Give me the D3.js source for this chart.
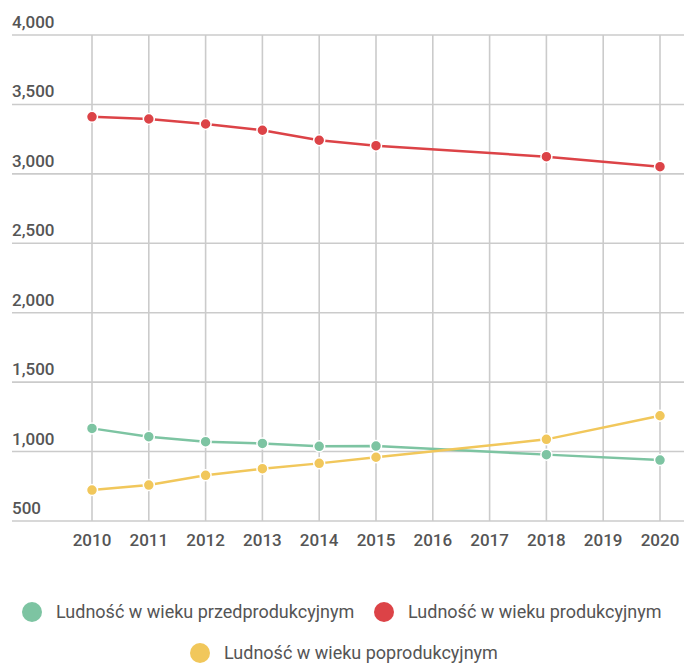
<!DOCTYPE html>
<html>
<head>
<meta charset="utf-8">
<script src="https://cdn.jsdelivr.net/npm/d3@7"></script>
<style>
  body { margin: 0; background: #fff; }
  svg { display: block; font-family: Roboto, "Noto Sans", sans-serif; }
</style>
</head>
<body>
<svg id="chart"></svg>
<script>
// dane z wykresu (tys.)
const years = [2010, 2011, 2012, 2013, 2014, 2015, 2016, 2017, 2018, 2019, 2020];
const pointYears = [2010, 2011, 2012, 2013, 2014, 2015, 2018, 2020];
const przedprodukcyjny = [1167, 1107, 1071, 1059, 1038, 1040, 978, 939];
const produkcyjny = [3411, 3395, 3359, 3314, 3242, 3203, 3124, 3052];
const poprodukcyjny = [723, 759, 829, 877, 915, 959, 1088, 1258];
const yTicks = [500, 1000, 1500, 2000, 2500, 3000, 3500, 4000];
const seriesNames = [
  "Ludność w wieku przedprodukcyjnym",
  "Ludność w wieku produkcyjnym",
  "Ludność w wieku poprodukcyjnym"
];

const colors = ["#7dc4a2", "#dc4347", "#f1c75b"];
const W = 685, H = 664;

const svg = d3.select("#chart").attr("width", W).attr("height", H);

const x = d3.scaleLinear().domain([2010, 2020]).range([92, 660]);
const y = d3.scaleLinear().domain([500, 4000]).range([521, 35]);

// siatka pozioma + etykiety osi Y
const gy = svg.append("g");
gy.selectAll("line").data(yTicks).enter().append("line")
  .attr("x1", 12).attr("x2", 684)
  .attr("y1", d => y(d)).attr("y2", d => y(d))
  .attr("stroke", "#cbcbcb").attr("stroke-width", 1.6);
gy.selectAll("text").data(yTicks).enter().append("text")
  .attr("x", 12).attr("y", d => y(d) - 7)
  .attr("fill", "#555").attr("font-size", 17).attr("font-weight", 500)
  .text(d3.format(","));

// siatka pionowa + etykiety osi X
const gx = svg.append("g");
gx.selectAll("line").data(years).enter().append("line")
  .attr("x1", d => x(d)).attr("x2", d => x(d))
  .attr("y1", y(4000)).attr("y2", y(500))
  .attr("stroke", "#cbcbcb").attr("stroke-width", 1.6);
gx.selectAll("text").data(years).enter().append("text")
  .attr("x", d => x(d)).attr("y", 546)
  .attr("text-anchor", "middle")
  .attr("fill", "#555").attr("font-size", 17).attr("font-weight", 500)
  .text(d => d);

// serie
const allSeries = [przedprodukcyjny, produkcyjny, poprodukcyjny];
const line = d3.line().x((d, i) => x(pointYears[i])).y(d => y(d));

allSeries.forEach((vals, k) => {
  const g = svg.append("g");
  g.append("path").datum(vals)
    .attr("d", line)
    .attr("fill", "none")
    .attr("stroke", colors[k])
    .attr("stroke-width", 2.5);
  g.selectAll("circle").data(vals).enter().append("circle")
    .attr("cx", (d, i) => x(pointYears[i]))
    .attr("cy", d => y(d))
    .attr("r", 5.5)
    .attr("fill", colors[k])
    .attr("stroke", "#fff")
    .attr("stroke-width", 1.5);
});

// legenda
const legendPos = [
  { cx: 32, cy: 612 },
  { cx: 384, cy: 612 },
  { cx: 200, cy: 653 }
];
const lg = svg.append("g");
seriesNames.forEach((name, k) => {
  lg.append("circle")
    .attr("cx", legendPos[k].cx).attr("cy", legendPos[k].cy)
    .attr("r", 10).attr("fill", colors[k]);
  lg.append("text")
    .attr("x", legendPos[k].cx + 24).attr("y", legendPos[k].cy + 6)
    .attr("fill", "#555").attr("font-size", 18)
    .text(name);
});
</script>
</body>
</html>
